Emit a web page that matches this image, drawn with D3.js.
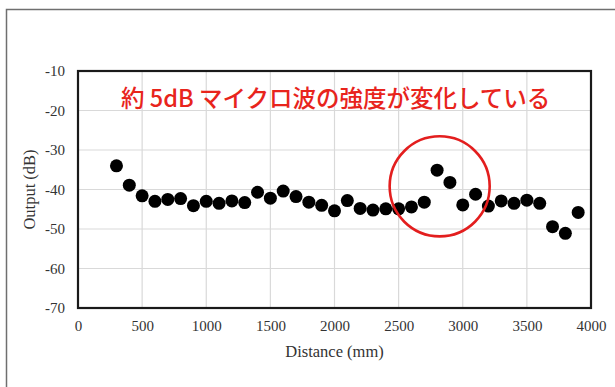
<!DOCTYPE html>
<html>
<head>
<meta charset="utf-8">
<script src="https://cdn.jsdelivr.net/npm/d3@7"></script>
<style>
  html, body { margin: 0; padding: 0; background: #fff; }
  svg { display: block; }
  .serif { font-family: 'Liberation Serif', 'Times New Roman', serif; }
</style>
</head>
<body>
<svg id="chart" width="615" height="387"></svg>
<script>
// Measured microwave output against distance
const distances = [300, 400, 500, 600, 700, 800, 900, 1000, 1100, 1200, 1300, 1400, 1500,
  1600, 1700, 1800, 1900, 2000, 2100, 2200, 2300, 2400, 2500, 2600, 2700, 2800, 2900,
  3000, 3100, 3200, 3300, 3400, 3500, 3600, 3700, 3800, 3900];
const outputs = [-34.0, -38.9, -41.6, -43.0, -42.5, -42.3, -44.1, -43.0, -43.5, -42.9, -43.3, -40.7, -42.2,
  -40.4, -41.8, -43.2, -44.0, -45.4, -42.8, -44.8, -45.2, -44.9, -44.9, -44.4, -43.2, -35.1, -38.2,
  -43.9, -41.2, -44.2, -42.9, -43.5, -42.7, -43.5, -49.4, -51.1, -45.8];
const xTicks = [0, 500, 1000, 1500, 2000, 2500, 3000, 3500, 4000];
const yTicks = [-10, -20, -30, -40, -50, -60, -70];
const xTitle = "Distance (mm)";
const yTitle = "Output (dB)";
const note = "約 5dB マイクロ波の強度が変化している";
// region of the sudden change, in data units
const highlight = { x: 2820, y: -39.2, rx: 390 };

const svg = d3.select("#chart");
const plot = { left: 78, top: 71, right: 591, bottom: 308 };

const x = d3.scaleLinear().domain([0, 4000]).range([plot.left, plot.right]);
const y = d3.scaleLinear().domain([-70, -10]).range([plot.bottom, plot.top]);

// plain hyphen-minus labels
const fmt = d => String(d);

// outer frame (extends past the right and bottom edges)
svg.append("rect")
  .attr("x", 6.5).attr("y", 9.5)
  .attr("width", 700).attr("height", 500)
  .attr("fill", "none").attr("stroke", "#6f6f6f").attr("stroke-width", 1.5);

// gridlines
const grid = svg.append("g");
grid.selectAll(".vx").data(xTicks.slice(1, -1)).join("line")
  .attr("x1", d => x(d)).attr("x2", d => x(d))
  .attr("y1", plot.top).attr("y2", plot.bottom)
  .attr("stroke", "#d9d9d9").attr("stroke-width", 1.2);
grid.selectAll(".hy").data(yTicks.slice(1, -1)).join("line")
  .attr("x1", plot.left).attr("x2", plot.right)
  .attr("y1", d => y(d)).attr("y2", d => y(d))
  .attr("stroke", "#d9d9d9").attr("stroke-width", 1.2);

// axes (labels only; the plot border is drawn separately)
const xAxis = svg.append("g")
  .attr("transform", `translate(0,${plot.bottom})`)
  .call(d3.axisBottom(x).tickValues(xTicks).tickSize(0).tickPadding(12).tickFormat(fmt));
const yAxis = svg.append("g")
  .attr("transform", `translate(${plot.left},0)`)
  .call(d3.axisLeft(y).tickValues(yTicks).tickSize(0).tickPadding(13).tickFormat(fmt));
[xAxis, yAxis].forEach(a => {
  a.attr("font-family", null).attr("font-size", null);
  a.select(".domain").remove();
  a.selectAll("text")
    .attr("class", "serif")
    .style("font-family", "'Liberation Serif', 'Times New Roman', serif")
    .style("font-size", "15px").attr("fill", "#333");
});

// plot border
svg.append("rect")
  .attr("x", plot.left).attr("y", plot.top)
  .attr("width", plot.right - plot.left).attr("height", plot.bottom - plot.top)
  .attr("fill", "none").attr("stroke", "#1a1a1a").attr("stroke-width", 2.2);

// axis titles
svg.append("text")
  .attr("class", "serif")
  .attr("x", (plot.left + plot.right) / 2).attr("y", 357)
  .attr("text-anchor", "middle")
  .attr("font-size", 16.5).attr("fill", "#333")
  .text(xTitle);
svg.append("text")
  .attr("class", "serif")
  .attr("transform", `translate(35,${(plot.top + plot.bottom) / 2}) rotate(-90)`)
  .attr("text-anchor", "middle")
  .attr("font-size", 16.5).attr("fill", "#333")
  .text(yTitle);

// data points
svg.append("g").selectAll("circle")
  .data(distances.map((d, i) => [d, outputs[i]]))
  .join("circle")
  .attr("cx", d => x(d[0])).attr("cy", d => y(d[1]))
  .attr("r", 6.5).attr("fill", "#000");

// annotation
svg.append("text")
  .attr("x", 121).attr("y", 107)
  .attr("font-family", "'Noto Sans CJK JP', sans-serif")
  .attr("font-weight", 500)
  .attr("font-size", 23.5).attr("fill", "#e8241c")
  .text(note);

const rx = x(highlight.x + highlight.rx) - x(highlight.x);
svg.append("ellipse")
  .attr("cx", x(highlight.x)).attr("cy", y(highlight.y))
  .attr("rx", rx).attr("ry", rx * 1.0)
  .attr("fill", "none").attr("stroke", "#e31e1e").attr("stroke-width", 2.6);
</script>
</body>
</html>
